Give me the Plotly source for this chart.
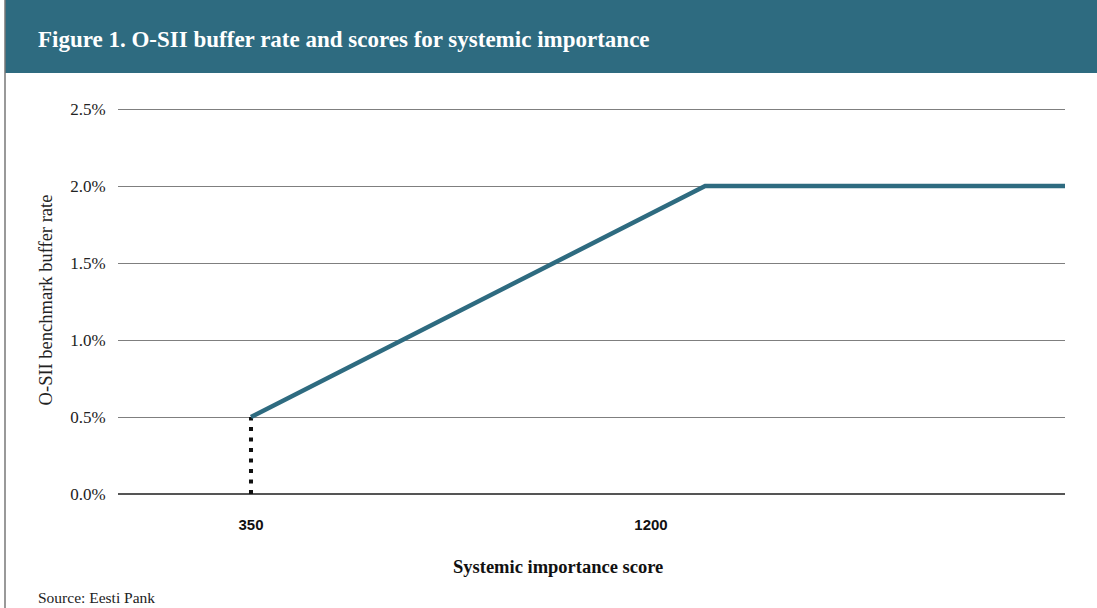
import plotly.graph_objects as go

# Data
score = [350, 1315, 2080]          # systemic importance score
buffer_rate = [0.5, 2.0, 2.0]      # O-SII benchmark buffer rate, %
threshold_x = [350, 350]
threshold_y = [0.0, 0.5]
x_tick_vals = [350, 1200]
x_tick_text = ["350", "1200"]
y_tick_vals = [0.0, 0.5, 1.0, 1.5, 2.0, 2.5]
y_tick_text = ["0.0%", "0.5%", "1.0%", "1.5%", "2.0%", "2.5%"]

TEAL = "#2E6B80"
SERIF = "Liberation Serif, Times New Roman, serif"
SANS = "Liberation Sans, Arial, sans-serif"

L, R, T, B = 118, 32, 106, 114
W, H = 1097, 608
px_w, px_h = W - L - R, H - T - B
def px_x(x): return (x - L) / px_w
def px_y(y): return (H - B - y) / px_h

fig = go.Figure()
fig.add_trace(go.Scatter(x=threshold_x, y=threshold_y, mode="lines",
                         line=dict(color="#111111", width=4, dash="4px,6.5px"),
                         hoverinfo="skip", showlegend=False))
fig.add_trace(go.Scatter(x=score, y=buffer_rate, mode="lines",
                         line=dict(color=TEAL, width=4.5),
                         showlegend=False))

fig.update_layout(
    width=W, height=H,
    margin=dict(l=L, r=R, t=T, b=B),
    paper_bgcolor="white", plot_bgcolor="white",
    xaxis=dict(range=[67.4, 2079.7], tickvals=x_tick_vals, ticktext=x_tick_text,
               showgrid=False, zeroline=False, showline=False,
               ticks="outside", ticklen=17, tickcolor="rgba(0,0,0,0)",
               tickfont=dict(family=SANS, size=15, color="#111111", weight="bold")),
    yaxis=dict(range=[0, 2.52], tickvals=y_tick_vals, ticktext=y_tick_text,
               showgrid=True, gridcolor="#7f7f7f", gridwidth=1.3,
               zeroline=True, zerolinecolor="#555555", zerolinewidth=2,
               showline=False, ticks="outside", ticklen=8, tickcolor="rgba(0,0,0,0)",
               tickfont=dict(family=SERIF, size=17, color="#222222"),
               title=dict(text="O-SII benchmark buffer rate", standoff=12,
                          font=dict(family=SERIF, size=18.5, color="#222222"))),
    annotations=[
        dict(text="Systemic importance score", xref="paper", yref="paper",
             x=px_x(558), y=px_y(567), xanchor="center", yanchor="middle",
             showarrow=False, font=dict(family=SERIF, size=18.5, color="#111111", weight="bold")),
        dict(text="Source: Eesti Pank", xref="paper", yref="paper",
             x=px_x(36), y=px_y(597), xanchor="left", yanchor="middle",
             showarrow=False, font=dict(family=SERIF, size=15.5, color="#222222")),
        dict(text="Figure 1. O-SII buffer rate and scores for systemic importance",
             xref="paper", yref="paper",
             x=px_x(36), y=px_y(40), xanchor="left", yanchor="middle",
             showarrow=False, font=dict(family=SERIF, size=23, color="white", weight="bold")),
    ],
)

# header band and left frame line
fig.add_shape(type="rect", xref="paper", yref="paper", layer="below",
              x0=px_x(5), x1=px_x(W), y0=px_y(73), y1=px_y(0),
              line=dict(width=0), fillcolor=TEAL)
fig.add_shape(type="line", xref="paper", yref="paper",
              x0=px_x(5), x1=px_x(5), y0=px_y(0), y1=px_y(H),
              line=dict(color="#777777", width=1.5))

fig.write_html("out.html", config={"displayModeBar": False},
               post_script="document.body.style.margin='0';")
